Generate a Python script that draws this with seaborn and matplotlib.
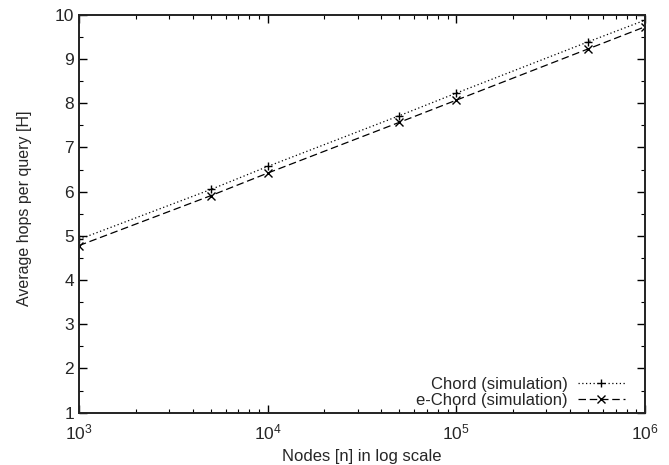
import matplotlib
matplotlib.use("Agg")
import matplotlib.pyplot as plt
import seaborn as sns
import pandas as pd
from matplotlib.ticker import LogLocator, MultipleLocator, FixedLocator

nodes = [1e3, 5e3, 1e4, 5e4, 1e5, 5e5, 1e6]
chord = [4.92, 6.05, 6.57, 7.72, 8.23, 9.39, 9.88]
echord = [4.78, 5.91, 6.42, 7.57, 8.07, 9.23, 9.73]
series_names = ["Chord (simulation)", "e-Chord (simulation)"]

sns.set_style("ticks")
plt.rcParams['font.family'] = ['Liberation Sans', 'DejaVu Sans']

df = pd.DataFrame({
    "n": nodes + nodes,
    "H": chord + echord,
    "series": [series_names[0]] * len(nodes) + [series_names[1]] * len(nodes),
})

fig = plt.figure(figsize=(6.69, 4.65), dpi=100)
ax = fig.add_axes([0.118, 0.1125, 0.846, 0.8555])

sns.lineplot(data=df, x="n", y="H", hue="series", style="series", ax=ax,
             palette=["black", "black"], markers=["+", "x"],
             dashes=[(1, 2), (6, 3)], lw=0.9, markersize=6, mew=1.0,
             markeredgecolor="black")

ax.set_xscale("log")
ax.set_xlim(1e3, 1e6)
ax.set_ylim(1, 10)
ax.xaxis.set_major_locator(FixedLocator([1e3, 1e4, 1e5, 1e6]))
ax.xaxis.set_minor_locator(LogLocator(base=10, subs=range(2, 10)))
ax.xaxis.set_minor_formatter(matplotlib.ticker.NullFormatter())
ax.yaxis.set_major_locator(MultipleLocator(1))
ax.yaxis.set_minor_locator(MultipleLocator(0.5))

ax.tick_params(which="both", direction="in", top=True, right=True,
               labelsize=12.5, color="black")
ax.tick_params(which="major", length=6, width=1)
ax.tick_params(which="minor", length=3, width=0.8)
ax.tick_params(axis="x", pad=7)
for s in ax.spines.values():
    s.set_linewidth(1.4)
    s.set_color("#222222")

ax.set_xlabel("Nodes [n] in log scale", fontsize=12, labelpad=5)
ax.set_ylabel("Average hops per query [H]", fontsize=11.5)
ax.yaxis.set_label_coords(-0.083, 0.513)

leg = ax.legend(loc="lower right", bbox_to_anchor=(0.976, -0.005),
                frameon=False, markerfirst=False,
                fontsize=12, handlelength=2.8, labelspacing=0.05,
                borderaxespad=0.0, handletextpad=0.6, title=None)

fig.savefig("out.png", dpi=100)
